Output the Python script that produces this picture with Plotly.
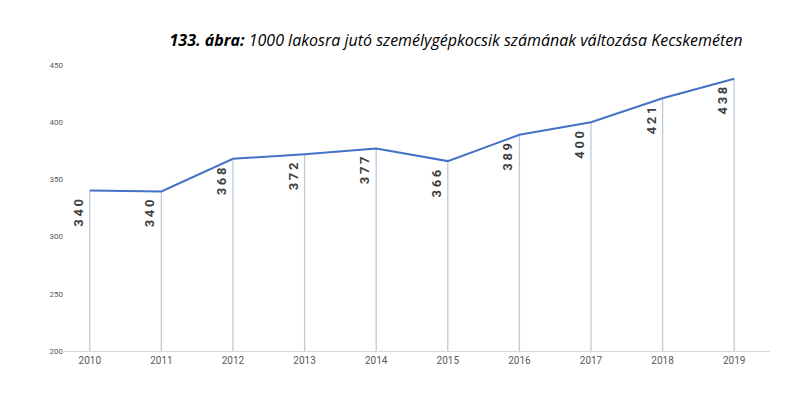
import plotly.graph_objects as go

years = [2010, 2011, 2012, 2013, 2014, 2015, 2016, 2017, 2018, 2019]
values = [340.4, 339.5, 368, 372, 377, 366, 389, 400, 421, 438]
labels = ["340", "340", "368", "372", "377", "366", "389", "400", "421", "438"]
y_ticks = [200, 250, 300, 350, 400, 450]

drop_x, drop_y = [], []
for x, v in zip(years, values):
    drop_x += [x, x, None]
    drop_y += [200, v, None]

fig = go.Figure()
fig.add_trace(go.Scatter(x=drop_x, y=drop_y, mode="lines",
                         line=dict(color="#bccadb", width=1.3), hoverinfo="skip"))
fig.add_trace(go.Scatter(x=years, y=values, mode="lines",
                         line=dict(color="#4472c4", width=2)))
for x, v, t in zip(years, values, labels):
    fig.add_annotation(x=x, y=v, text="<b>" + "\u2009".join(t) + "</b>", showarrow=False, textangle=-90,
                       xanchor="right", yanchor="top", xshift=-2, yshift=-6,
                       font=dict(family="Liberation Sans Narrow, Roboto", size=13, color="#404040"))

fig.update_layout(
    width=800, height=400, showlegend=False,
    paper_bgcolor="white", plot_bgcolor="white",
    margin=dict(l=56, r=38, t=57, b=57),
    title=dict(text="<b><i>133. ábra:</i></b><i> 1000 lakosra jutó személygépkocsik számának változása Kecskeméten</i>",
               x=0.56, xanchor="center", y=0.92, yanchor="middle",
               font=dict(family="Open Sans", size=16, color="black")),
)
fig.update_xaxes(range=[2009.64, 2019.5], tickvals=years, ticktext=[str(y) for y in years],
                 showgrid=False, showline=True, linecolor="#d9d9d9", linewidth=1,
                 ticks="", tickfont=dict(family="Liberation Sans Narrow, Roboto", size=10, color="#595959"))
fig.update_yaxes(range=[200, 450], tickvals=y_ticks, showgrid=False, zeroline=False,
                 showline=False, ticks="",
                 tickfont=dict(family="Liberation Sans Narrow, Roboto", size=8, color="#595959"))
fig.write_html("out.html")
